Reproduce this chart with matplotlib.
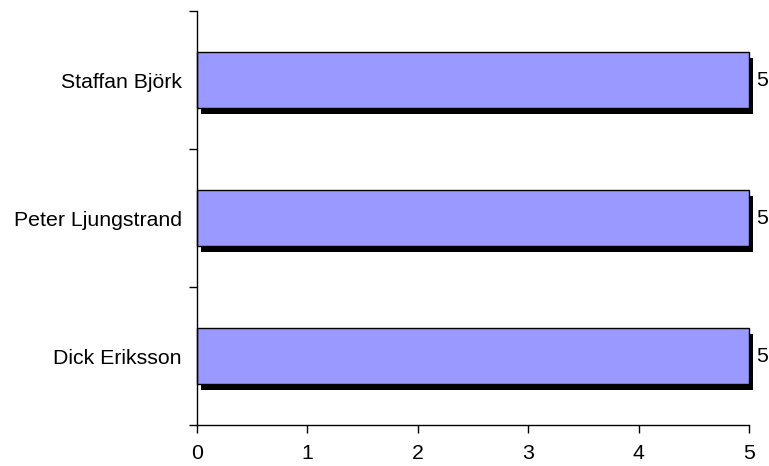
import matplotlib
matplotlib.use("Agg")
import matplotlib.pyplot as plt
from matplotlib.transforms import offset_copy

names = ["Dick Eriksson", "Peter Ljungstrand", "Staffan Björk"]
values = [5, 5, 5]
x_ticks = [0, 1, 2, 3, 4, 5]

plt.rcParams["font.family"] = ["Liberation Sans", "DejaVu Sans"]
FS = 15.3

fig = plt.figure(figsize=(7.69, 4.66), dpi=100)
ax = fig.add_axes([197 / 769, 1 - 425 / 466, (749 - 197) / 769, (425 - 11) / 466])

ypos = list(range(len(names)))
bar_h = 0.4

# drop shadow behind each bar
shadow_tr = offset_copy(ax.transData, fig=fig, x=4, y=-6, units="dots")
ax.barh(ypos, values, height=bar_h, color="black", transform=shadow_tr, zorder=1,
        clip_on=False)
ax.barh(ypos, values, height=bar_h, color="#9999FF", edgecolor="black",
        linewidth=1.0, zorder=2, clip_on=False)

for y, v in zip(ypos, values):
    ax.annotate(f"{v:g}", xy=(v, y), xytext=(5, 0), textcoords="offset points",
                va="center", ha="left", fontsize=FS)

ax.set_xlim(0, 5)
ax.set_ylim(-0.5, len(names) - 0.5)
ax.set_xticks(x_ticks)
ax.set_xticklabels([str(t) for t in x_ticks], fontsize=FS)

# category labels centred, ticks at category boundaries
ax.set_yticks([i - 0.5 for i in range(len(names) + 1)])
ax.set_yticklabels([])
ax.set_yticks(ypos, minor=True)
ax.set_yticklabels(names, minor=True, fontsize=FS)
ax.tick_params(axis="y", which="minor", length=0, pad=11)
ax.tick_params(axis="y", which="major", length=6, width=1, direction="out")
ax.tick_params(axis="x", length=6, width=1, direction="out", pad=8)

ax.spines["top"].set_visible(False)
ax.spines["right"].set_visible(False)
ax.spines["left"].set_linewidth(1)
ax.spines["bottom"].set_linewidth(1)

fig.savefig("out.png", dpi=100)
